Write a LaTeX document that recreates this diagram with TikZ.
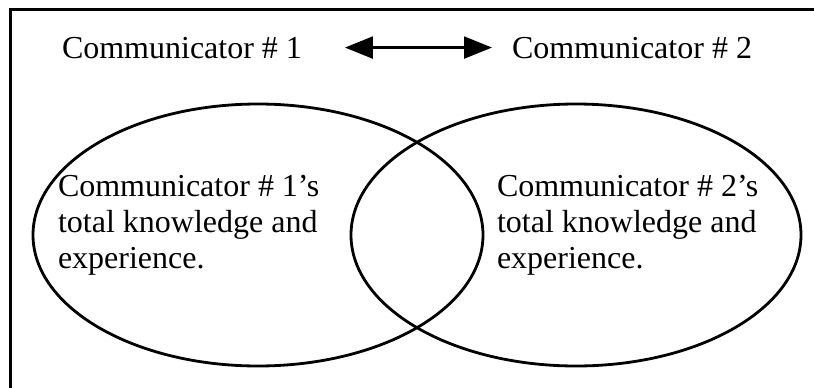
\documentclass[tikz,border=0pt]{standalone}
\usepackage{fontspec}
\setmainfont{Liberation Serif}
\usetikzlibrary{shapes.geometric,arrows.meta}
\begin{document}
\begin{tikzpicture}[x=1pt,y=-1pt,
  label text/.style={inner sep=0pt,outer sep=0pt,font=\fontsize{32}{36}\selectfont},
  block text/.style={label text,align=left,anchor=north west},
  circle set/.style={draw,ellipse,line width=2.8pt,minimum width=450pt,minimum height=262pt,inner sep=0pt},
  frame line/.style={line width=3pt},
  both ways/.style={line width=2.2pt,{Triangle[length=28pt,width=22pt]}-{Triangle[length=28pt,width=22pt]}}]
\useasboundingbox (0,0) rectangle (814,388);
% outer frame (continues past the right and bottom edges)
\begin{scope}
  \clip (0,0) rectangle (814,388);
  \draw[frame line] (10.5,400) -- (10.5,9.5) -- (830,9.5);
\end{scope}
% the two overlapping knowledge sets
\node[circle set] (setA) at (258,235) {};
\node[circle set] (setB) at (576,235) {};
% communicators
\node[label text,anchor=base west] (comA) at (62,58) {Communicator \# 1};
\node[label text,anchor=base west] (comB) at (512,58) {Communicator \# 2};
\draw[both ways,shorten <=43pt,shorten >=20pt] (comA.east) -- (comB.west);
% contents of each set
\node[block text] (txtA) at (58,175) {Communicator \# 1’s\\total knowledge and\\experience.};
\node[block text] (txtB) at (497,175) {Communicator \# 2’s\\total knowledge and\\experience.};
\end{tikzpicture}
\end{document}
